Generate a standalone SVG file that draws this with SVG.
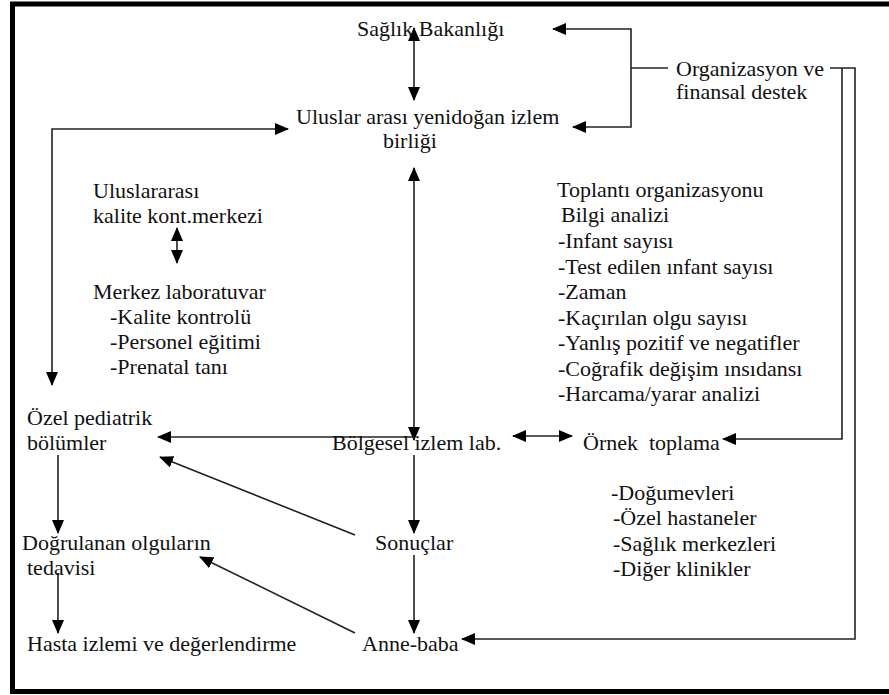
<svg xmlns="http://www.w3.org/2000/svg" width="889" height="695" viewBox="0 0 889 695">
<defs>
<marker id="ah" viewBox="0 0 14 12" refX="13" refY="6" markerWidth="14" markerHeight="12" markerUnits="userSpaceOnUse" orient="auto-start-reverse">
<path d="M0,0 L14,6 L0,12 Z" fill="#000"/>
</marker>
</defs>
<style>
.t text{font-size:22px;fill:#111;white-space:pre}
.c{fill:none;stroke:#222;stroke-width:1.6}
.a{marker-end:url(#ah)}
.d{marker-start:url(#ah);marker-end:url(#ah)}
</style>
<rect width="889" height="695" fill="#fff"/>
<path d="M889,4 H12.5 V691.5 H889" fill="none" stroke="#000" stroke-width="5"/>
<g id="connectors">
<path class="c d" d="M414,28 V100"/>
<path class="c" d="M668,68 H631"/>
<path class="c a" d="M631,68 V29 H553"/>
<path class="c a" d="M631,68 V127 H573"/>
<path class="c a" d="M830,68 H855 V639 H462"/>
<path class="c a" d="M842,68 V439 H723"/>
<path class="c d" d="M52,385 V129 H288"/>
<path class="c d" d="M414,168 V440"/>
<path class="c d" d="M177,228 V263"/>
<path class="c a" d="M414,437 H158"/>
<path class="c d" d="M513,436 H572"/>
<path class="c a" d="M414,455 V533"/>
<path class="c a" d="M414,555 V633"/>
<path class="c a" d="M355,535 L160,457"/>
<path class="c a" d="M355,633 L200,557"/>
<path class="c a" d="M58,455 V533"/>
<path class="c a" d="M58,573 V633"/>
</g>
<g class="t" font-family="'Liberation Serif', Tinos, 'Times New Roman', 'DejaVu Serif', serif">
<g id="saglik-bakanligi"><text x="357" y="36">Sağlık Bakanlığı</text></g>
<g id="organizasyon"><text x="676" y="76">Organizasyon ve</text><text x="676" y="99">finansal destek</text></g>
<g id="uluslar-arasi-birlik"><text x="296" y="124">Uluslar arası yenidoğan izlem</text><text x="383" y="148">birliği</text></g>
<g id="kalite-merkezi"><text x="93" y="198">Uluslararası</text><text x="93" y="223">kalite kont.merkezi</text></g>
<g id="merkez-lab"><text x="93" y="299">Merkez laboratuvar</text><text x="110" y="324">-Kalite kontrolü</text><text x="110" y="349">-Personel eğitimi</text><text x="110" y="374">-Prenatal tanı</text></g>
<g id="toplanti"><text x="557" y="197">Toplantı organizasyonu</text><text x="561" y="222">Bilgi analizi</text><text x="558" y="248">-Infant sayısı</text><text x="558" y="274">-Test edilen ınfant sayısı</text><text x="558" y="299">-Zaman</text><text x="558" y="325">-Kaçırılan olgu sayısı</text><text x="558" y="350">-Yanlış pozitif ve negatifler</text><text x="558" y="376">-Coğrafik değişim ınsıdansı</text><text x="558" y="401">-Harcama/yarar analizi</text></g>
<g id="ozel-pediatrik"><text x="27" y="425">Özel pediatrik</text><text x="27" y="450">bölümler</text></g>
<g id="bolgesel-lab"><text x="332" y="450">Bölgesel izlem lab.</text></g>
<g id="ornek-toplama"><text x="583" y="450">Örnek  toplama</text></g>
<g id="kurumlar"><text x="611" y="500">-Doğumevleri</text><text x="613" y="525">-Özel hastaneler</text><text x="613" y="551">-Sağlık merkezleri</text><text x="613" y="576">-Diğer klinikler</text></g>
<g id="dogrulanan"><text x="22" y="550">Doğrulanan olguların</text><text x="27" y="575">tedavisi</text></g>
<g id="sonuclar"><text x="375" y="550">Sonuçlar</text></g>
<g id="hasta-izlemi"><text x="27" y="651">Hasta izlemi ve değerlendirme</text></g>
<g id="anne-baba"><text x="362" y="651">Anne-baba</text></g>
</g>
</svg>
